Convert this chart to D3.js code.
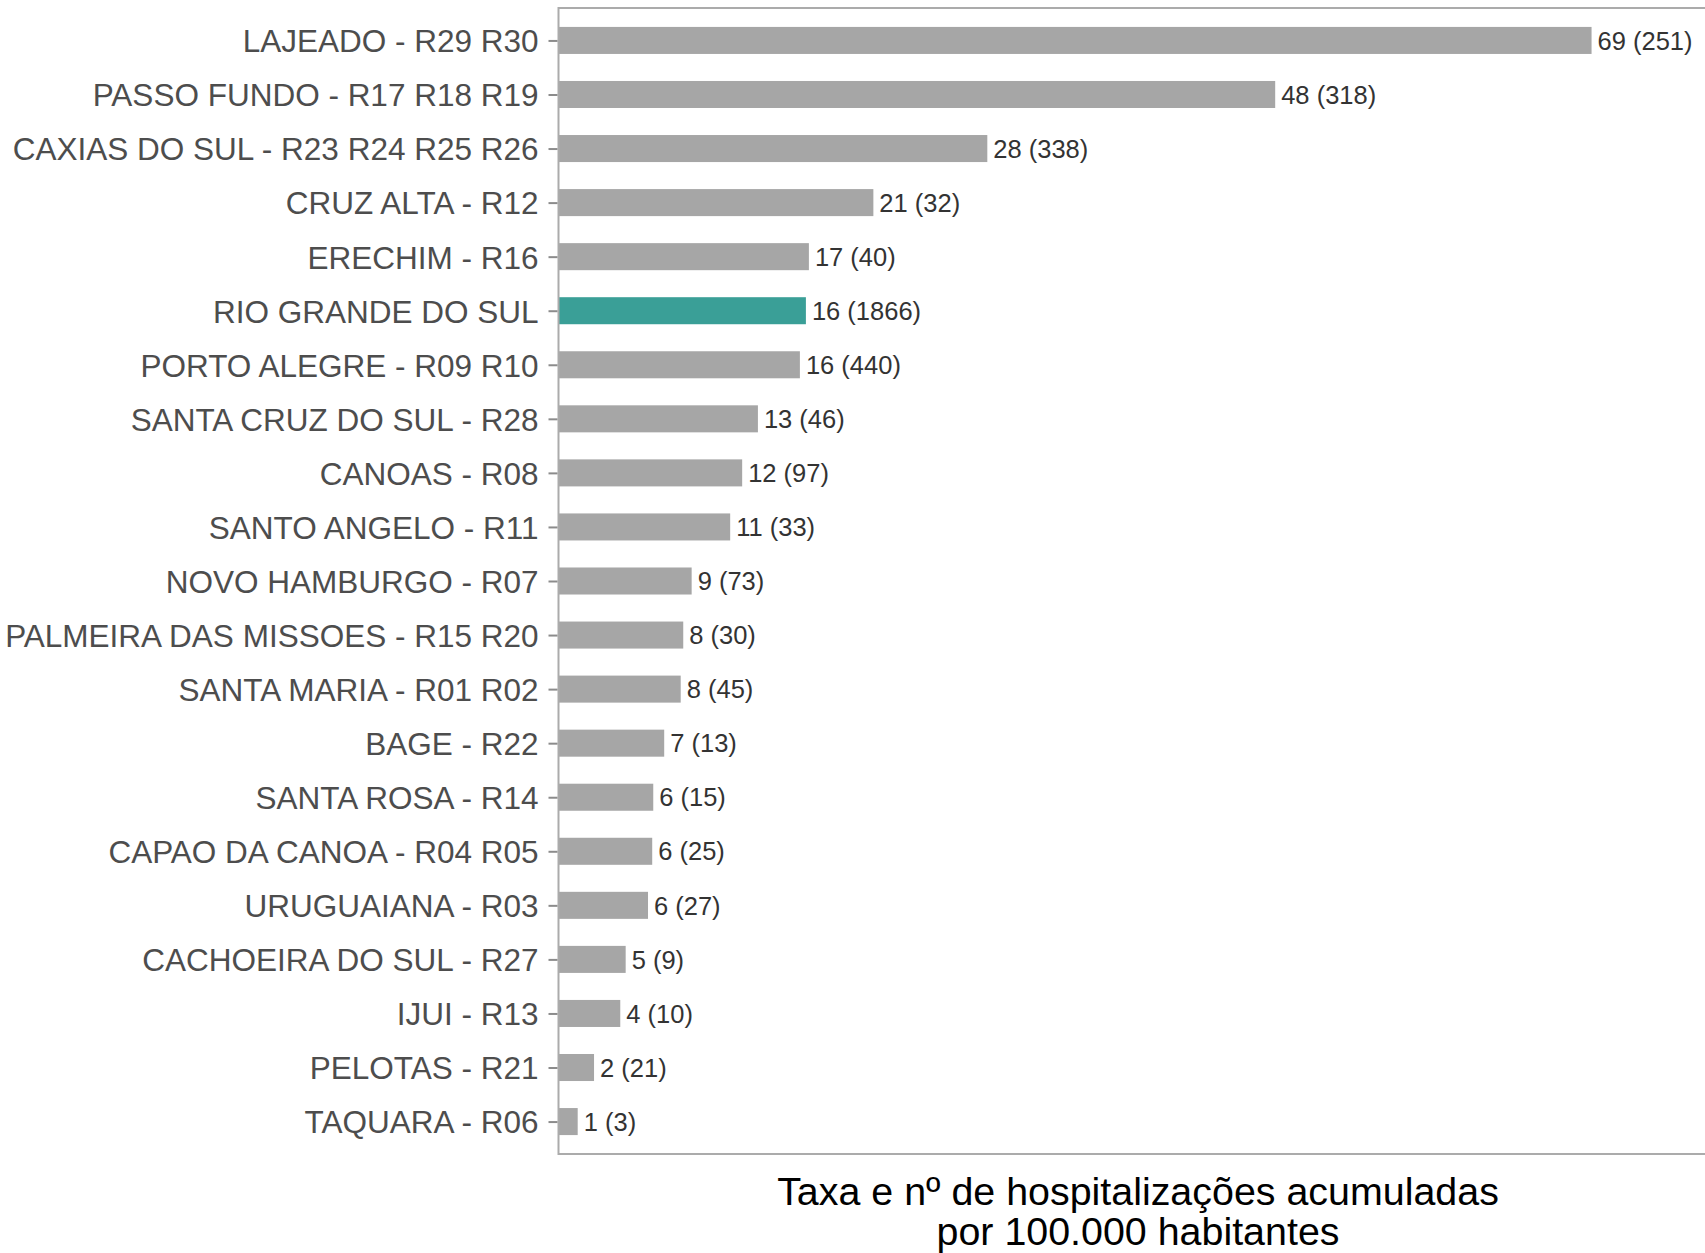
<!DOCTYPE html>
<html>
<head>
<meta charset="utf-8">
<script src="https://cdnjs.cloudflare.com/ajax/libs/d3/7.8.5/d3.min.js"></script>
<style>
    body { margin: 0; background: #fff; }
    svg { display: block; font-family: 'Liberation Sans', Arial, sans-serif; }
</style>
</head>
<body>
<svg id="chart"></svg>
<script>
const width = 1705;
const height = 1253;

// regiões de saúde, em ordem decrescente de taxa
const regioes = [
    'LAJEADO - R29 R30',
    'PASSO FUNDO - R17 R18 R19',
    'CAXIAS DO SUL - R23 R24 R25 R26',
    'CRUZ ALTA - R12',
    'ERECHIM - R16',
    'RIO GRANDE DO SUL',
    'PORTO ALEGRE - R09 R10',
    'SANTA CRUZ DO SUL - R28',
    'CANOAS - R08',
    'SANTO ANGELO - R11',
    'NOVO HAMBURGO - R07',
    'PALMEIRA DAS MISSOES - R15 R20',
    'SANTA MARIA - R01 R02',
    'BAGE - R22',
    'SANTA ROSA - R14',
    'CAPAO DA CANOA - R04 R05',
    'URUGUAIANA - R03',
    'CACHOEIRA DO SUL - R27',
    'IJUI - R13',
    'PELOTAS - R21',
    'TAQUARA - R06',
];
// taxa por 100.000 hab. (comprimento da barra)
const taxa = [68.9, 47.8, 28.6, 21.0, 16.7, 16.5, 16.1, 13.3, 12.25, 11.45, 8.88,
    8.32, 8.15, 7.05, 6.32, 6.25, 5.97, 4.48, 4.12, 2.37, 1.28];
// taxa arredondada mostrada no rótulo
const taxaRotulo = [69, 48, 28, 21, 17, 16, 16, 13, 12, 11, 9, 8, 8, 7, 6, 6, 6, 5, 4, 2, 1];
// nº de hospitalizações acumuladas
const hosp = [251, 318, 338, 32, 40, 1866, 440, 46, 97, 33, 73, 30, 45, 13, 15, 25, 27, 9, 10, 21, 3];

const destaque = 'RIO GRANDE DO SUL';

const data = regioes.map((r, i) => ({ regiao: r, taxa: taxa[i], rotulo: `${taxaRotulo[i]} (${hosp[i]})` }));

const margin = { top: 8, right: -12.5, bottom: 99, left: 558.5 };

const svg = d3.select('#chart')
    .attr('width', width)
    .attr('height', height);

const x = d3.scaleLinear()
    .domain([0, 77.3])
    .range([margin.left, width - margin.right]);

const y = d3.scalePoint()
    .domain(regioes)
    .range([margin.top, height - margin.bottom])
    .padding(0.6);

const barH = y.step() * 0.5;

svg.selectAll('rect.bar')
    .data(data)
    .enter().append('rect')
    .attr('class', 'bar')
    .attr('x', x(0))
    .attr('y', d => y(d.regiao) - barH / 2)
    .attr('width', d => x(d.taxa) - x(0))
    .attr('height', barH)
    .style('fill', d => d.regiao === destaque ? '#3a9f97' : '#a6a6a6');

svg.selectAll('text.valor')
    .data(data)
    .enter().append('text')
    .attr('class', 'valor')
    .attr('x', d => x(d.taxa) + 6)
    .attr('y', d => y(d.regiao))
    .attr('dy', '0.36em')
    .style('font-size', '25.5px')
    .style('fill', '#333')
    .text(d => d.rotulo);

// borda do painel
svg.append('rect')
    .attr('x', x.range()[0])
    .attr('y', margin.top)
    .attr('width', x.range()[1] - x.range()[0])
    .attr('height', height - margin.bottom - margin.top)
    .style('fill', 'none')
    .style('stroke', '#ababab')
    .style('stroke-width', 2);

const yAxis = svg.append('g')
    .attr('transform', `translate(${x.range()[0] - 1}, 0)`)
    .call(d3.axisLeft(y).tickSize(9).tickPadding(10));

yAxis.select('.domain').remove();
yAxis.selectAll('.tick line')
    .style('stroke', '#8c8c8c')
    .style('stroke-width', 2);
yAxis.selectAll('.tick text')
    .style('font-size', '31.5px')
    .style('fill', '#4d4d4d')
    .attr('dy', '0.36em');

const cx = (x.range()[0] + x.range()[1]) / 2;
const titulo = svg.append('text')
    .attr('text-anchor', 'middle')
    .style('font-size', '39.4px')
    .style('fill', '#000');
titulo.append('tspan')
    .attr('x', cx)
    .attr('y', 1205)
    .text('Taxa e nº de hospitalizações acumuladas');
titulo.append('tspan')
    .attr('x', cx)
    .attr('y', 1245)
    .text('por 100.000 habitantes');
</script>
</body>
</html>
